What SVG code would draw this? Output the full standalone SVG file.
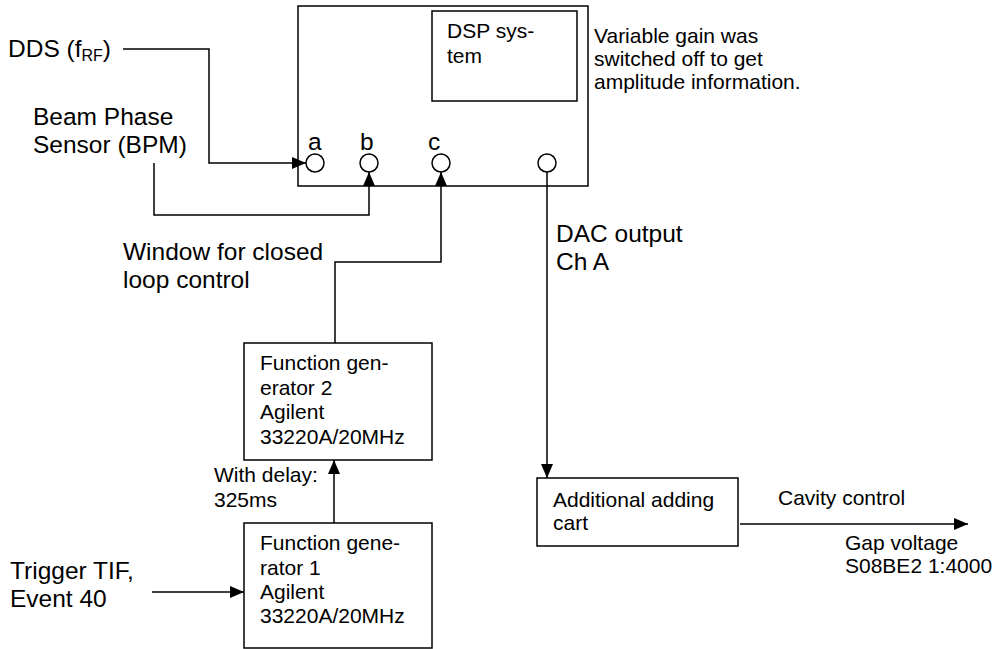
<svg xmlns="http://www.w3.org/2000/svg" width="996" height="649" viewBox="0 0 996 649">
<defs>
<marker id="arr" markerUnits="userSpaceOnUse" markerWidth="15" markerHeight="13" refX="14" refY="6" orient="auto">
<path d="M0,0 L14,6 L0,12 z" fill="#000"/>
</marker>
<style>
.box{fill:#fff;stroke:#000;stroke-width:1.5}
.port{fill:#fff;stroke:#000;stroke-width:1.5}
.wire{fill:none;stroke:#000;stroke-width:1.5}
.big{font-family:"Liberation Sans",Arial,sans-serif;font-size:24.5px;fill:#000}
.sm{font-family:"Liberation Sans",Arial,sans-serif;font-size:21px;fill:#000}
.note{font-family:"Liberation Sans",Arial,sans-serif;font-size:21px;fill:#000}
</style>
</defs>
<rect width="996" height="649" fill="#fff"/>

<g id="dsp-unit">
<rect class="box" x="298" y="6" width="290" height="180"/>
<rect class="box" x="432" y="11" width="145" height="90"/>
<text class="sm" x="447" y="38">DSP sys-</text>
<text class="sm" x="447" y="63">tem</text>
<circle class="port" cx="315" cy="163" r="9"/>
<circle class="port" cx="369" cy="163" r="9"/>
<circle class="port" cx="441" cy="163" r="9"/>
<circle class="port" cx="547" cy="163" r="9"/>
<text class="big" x="308" y="150">a</text>
<text class="big" x="360" y="150">b</text>
<text class="big" x="428" y="150">c</text>
</g>

<g id="note">
<text class="note" x="594" y="43">Variable gain was</text>
<text class="note" x="594" y="66">switched off to get</text>
<text class="note" x="594" y="89">amplitude information.</text>
</g>

<g id="dds">
<text class="big" x="8" y="57">DDS (f<tspan font-size="16px" dy="4">RF</tspan><tspan dy="-4">)</tspan></text>
</g>

<g id="bpm">
<text class="big" x="33" y="125">Beam Phase</text>
<text class="big" x="33" y="153">Sensor (BPM)</text>
</g>

<g id="window-label">
<text class="big" x="123" y="260">Window for closed</text>
<text class="big" x="123" y="288">loop control</text>
</g>

<g id="dac-label">
<text class="big" x="556" y="242">DAC output</text>
<text class="big" x="556" y="270">Ch A</text>
</g>

<g id="fg2">
<rect class="box" x="244" y="343" width="188" height="117"/>
<text class="sm" x="260" y="370">Function gen-</text>
<text class="sm" x="260" y="395">erator 2</text>
<text class="sm" x="260" y="419">Agilent</text>
<text class="sm" x="260" y="444">33220A/20MHz</text>
</g>

<g id="delay-label">
<text class="sm" x="214" y="482">With delay:</text>
<text class="sm" x="214" y="507">325ms</text>
</g>

<g id="fg1">
<rect class="box" x="244" y="523" width="188" height="125"/>
<text class="sm" x="260" y="550">Function gene-</text>
<text class="sm" x="260" y="575">rator 1</text>
<text class="sm" x="260" y="599">Agilent</text>
<text class="sm" x="260" y="623">33220A/20MHz</text>
</g>

<g id="trigger">
<text class="big" x="10" y="579">Trigger TIF,</text>
<text class="big" x="10" y="607">Event 40</text>
</g>

<g id="adding-cart">
<rect class="box" x="537" y="478" width="201" height="68"/>
<text class="sm" x="553" y="507">Additional adding</text>
<text class="sm" x="553" y="530">cart</text>
</g>

<g id="output-labels">
<text class="sm" x="778" y="505">Cavity control</text>
<text class="sm" x="845" y="550">Gap voltage</text>
<text class="sm" x="845" y="573">S08BE2 1:4000</text>
</g>

<g id="connectors">
<polyline class="wire" points="123,49 209,49 209,163 306,163" marker-end="url(#arr)"/>
<polyline class="wire" points="154,163 154,215 369,215 369,172" marker-end="url(#arr)"/>
<polyline class="wire" points="335,343 335,262 441,262 441,172" marker-end="url(#arr)"/>
<line class="wire" x1="547" y1="172" x2="547" y2="478" marker-end="url(#arr)"/>
<line class="wire" x1="334" y1="523" x2="334" y2="460" marker-end="url(#arr)"/>
<line class="wire" x1="152" y1="592" x2="244" y2="592" marker-end="url(#arr)"/>
<line class="wire" x1="740" y1="524" x2="968" y2="524" marker-end="url(#arr)"/>
</g>
</svg>
